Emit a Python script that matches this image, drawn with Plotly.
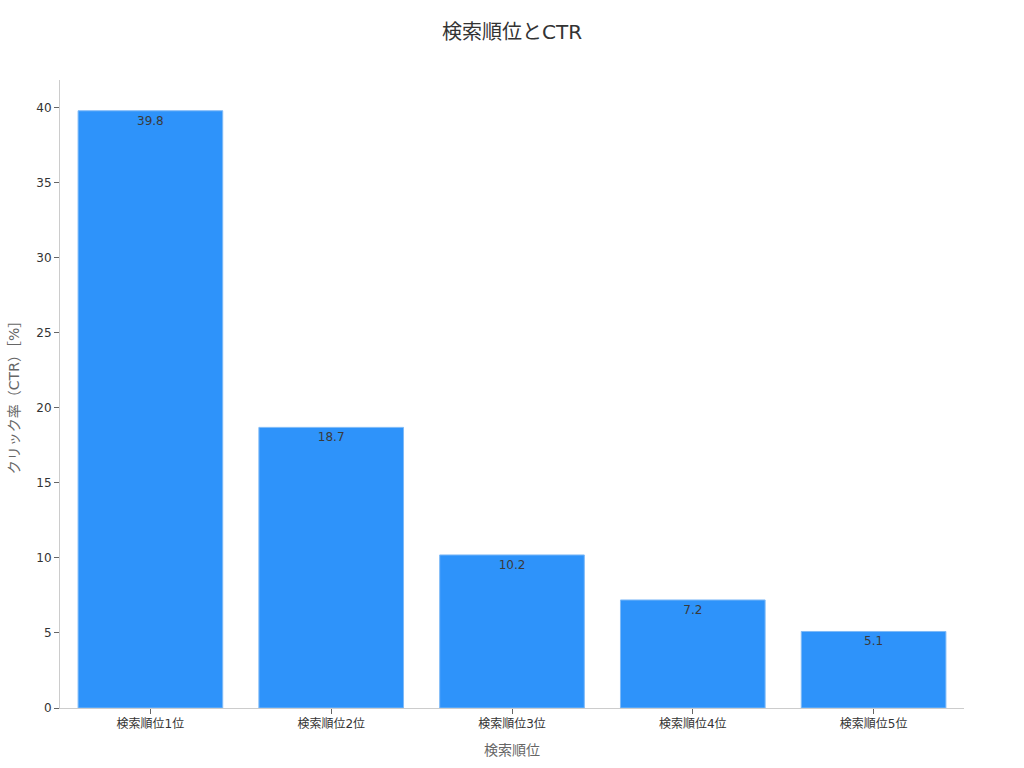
import plotly.graph_objects as go

categories = ["検索順位1位", "検索順位2位", "検索順位3位", "検索順位4位", "検索順位5位"]
ctr_values = [39.8, 18.7, 10.2, 7.2, 5.1]
y_ticks = [0, 5, 10, 15, 20, 25, 30, 35, 40]

FONT = "DejaVu Sans, Noto Sans CJK JP, sans-serif"

fig = go.Figure(
    go.Bar(
        x=categories,
        y=ctr_values,
        text=[f"{v:.1f}" for v in ctr_values],
        textposition="inside",
        insidetextanchor="end",
        textfont=dict(color="#3a3a3a", size=12, family=FONT),
        marker=dict(color="#2E93FA", line=dict(color="#7FBAF7", width=1)),
        width=0.8,
    )
)

fig.update_layout(
    width=1024,
    height=768,
    margin=dict(l=60, r=60, t=80, b=60),
    paper_bgcolor="white",
    plot_bgcolor="white",
    font=dict(family=FONT, color="#333333", size=12),
    title=dict(text="検索順位とCTR", x=0.5, xanchor="center", y=1 - 32 / 768, yanchor="middle",
               font=dict(size=20, color="#333333")),
    showlegend=False,
    xaxis=dict(
        title=dict(text="検索順位", font=dict(size=14, color="#666666"), standoff=14),
        showline=True, linecolor="#CCCCCC", linewidth=1,
        ticks="outside", ticklen=5, tickcolor="#666666",
        tickfont=dict(size=12, color="#333333"),
        showgrid=False, automargin=False,
    ),
    yaxis=dict(
        title=dict(text="クリック率（CTR）［%］", font=dict(size=14, color="#666666"), standoff=13),
        range=[0, 41.85],
        tickvals=y_ticks,
        showline=True, linecolor="#CCCCCC", linewidth=1,
        ticks="outside", ticklen=5, tickcolor="#666666",
        tickfont=dict(size=12, color="#333333"),
        showgrid=False, zeroline=False, automargin=False,
    ),
)

fig.write_html("out.html", config={"displayModeBar": False},
               post_script="document.body.style.margin='0px';")
